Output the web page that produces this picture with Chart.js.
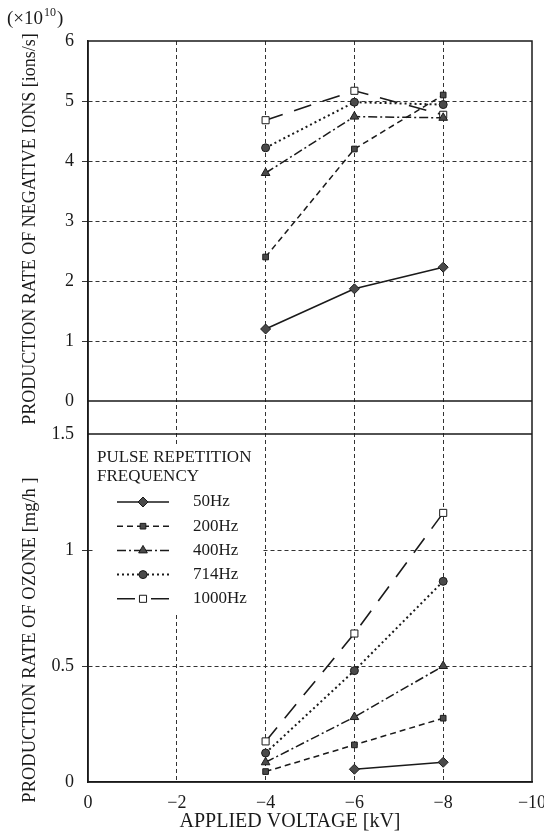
<!DOCTYPE html>
<html>
<head>
<meta charset="utf-8">
<script src="https://cdn.jsdelivr.net/npm/chart.js@4.4.0/dist/chart.umd.min.js"></script>
<style>
  html, body { margin: 0; padding: 0; background: #fff; }
  #wrap { position: relative; width: 544px; height: 836px; }
</style>
</head>
<body>
<div id="wrap"><canvas id="chart" width="544" height="836"></canvas></div>
<script>
const voltages = [-4, -6, -8];
const frequencies = ['50Hz', '200Hz', '400Hz', '714Hz', '1000Hz'];

// production rate of negative ions (x10^10 ions/s)
const ions50 = [1.2, 1.87, 2.23];
const ions200 = [2.4, 4.2, 5.1];
const ions400 = [3.8, 4.74, 4.72];
const ions714 = [4.22, 4.98, 4.94];
const ions1000 = [4.68, 5.17, 4.77];

// production rate of ozone (mg/h)
const ozone50 = [null, 0.055, 0.085];
const ozone200 = [0.045, 0.16, 0.275];
const ozone400 = [0.085, 0.28, 0.5];
const ozone714 = [0.125, 0.48, 0.865];
const ozone1000 = [0.175, 0.64, 1.16];

const xTicks = [0, -2, -4, -6, -8, -10];
const ionTicks = [0, 1, 2, 3, 4, 5, 6];
const ozoneTicks = [0, 0.5, 1, 1.5];

const serif = '"Liberation Serif", "DejaVu Serif", serif';
const ink = '#1a1a1a';
const markFill = '#4a4a4a';

const styles = [
    { dash: [], point: 'rectRot', fill: markFill, radius: 5, width: 1.6 },
    { dash: [6, 4], point: 'rect', fill: markFill, radius: 4, width: 1.5 },
    { dash: [9, 3, 2, 3], point: 'triangle', fill: markFill, radius: 5, width: 1.5 },
    { dash: [2, 3], point: 'circle', fill: markFill, radius: 4, width: 2 },
    { dash: [18, 12], point: 'rect', fill: '#ffffff', radius: 5, width: 1.6 }
];

function makeSet(values, idx, axis) {
    const s = styles[idx];
    return {
        label: frequencies[idx],
        data: voltages.map((v, i) => ({ x: v, y: values[i] })),
        yAxisID: axis,
        borderColor: ink,
        borderWidth: s.width,
        borderDash: s.dash,
        pointStyle: s.point,
        pointRadius: s.radius,
        pointBackgroundColor: s.fill,
        pointBorderColor: ink,
        pointBorderWidth: 1,
        tension: 0,
        fill: false
    };
}

const ionSets = [ions50, ions200, ions400, ions714, ions1000].map((arr, i) => makeSet(arr, i, 'y'));
const ozoneSets = [ozone50, ozone200, ozone400, ozone714, ozone1000].map((arr, i) => makeSet(arr, i, 'y2'));

function gridColor(edges) {
    return function(c) {
        if (c.tick && edges.includes(c.tick.value)) return 'rgba(0,0,0,0)';
        return '#333';
    };
}

// solid frame and the panel break lines
const framePlugin = {
    id: 'frame',
    beforeDatasetsDraw(chart) {
        const { ctx, chartArea: a, scales } = chart;
        const y0 = scales.y.getPixelForValue(0);
        const yTop2 = scales.y2.getPixelForValue(1.5);
        ctx.save();
        ctx.strokeStyle = ink;
        ctx.lineWidth = 1.5;
        ctx.strokeRect(a.left, a.top, a.right - a.left, a.bottom - a.top);
        ctx.beginPath();
        ctx.moveTo(a.left, y0);
        ctx.lineTo(a.right, y0);
        ctx.moveTo(a.left, yTop2);
        ctx.lineTo(a.right, yTop2);
        ctx.stroke();
        ctx.restore();
    }
};

function sideTitle(ctx, text, x, y, size) {
    ctx.save();
    ctx.translate(x, y);
    ctx.rotate(-Math.PI / 2);
    ctx.font = size + 'px ' + serif;
    ctx.textAlign = 'center';
    ctx.textBaseline = 'middle';
    ctx.fillText(text, 0, 0);
    ctx.restore();
}

// legend box inside the ozone panel, axis titles and the exponent note
const notePlugin = {
    id: 'notes',
    afterDraw(chart) {
        const { ctx, chartArea: a } = chart;
        const y2 = chart.scales.y2;
        const bx = a.left + 7;
        const by = y2.top + 10;
        ctx.save();
        ctx.fillStyle = '#fff';
        ctx.fillRect(bx, by, 167, 170);

        ctx.fillStyle = ink;
        ctx.textBaseline = 'middle';
        ctx.font = '17px ' + serif;
        ctx.fillText('PULSE REPETITION', bx + 2, by + 14);
        ctx.fillText('FREQUENCY', bx + 2, by + 33);

        chart.data.datasets.slice(0, 5).forEach((ds, i) => {
            const y = by + 58 + i * 24.2;
            const cx = bx + 48;
            ctx.strokeStyle = ink;
            ctx.lineWidth = ds.borderWidth;
            ctx.setLineDash(ds.borderDash);
            ctx.beginPath();
            ctx.moveTo(bx + 22, y);
            ctx.lineTo(cx, y);
            ctx.moveTo(bx + 74, y);
            ctx.lineTo(cx, y);
            ctx.stroke();
            ctx.setLineDash([]);
            ctx.fillStyle = ds.pointBackgroundColor;
            ctx.lineWidth = 1;
            Chart.helpers.drawPoint(ctx, {
                pointStyle: ds.pointStyle, radius: ds.pointRadius, rotation: 0, borderWidth: 1
            }, cx, y);
            ctx.fillStyle = ink;
            ctx.fillText(ds.label, bx + 98, y);
        });

        ctx.fillStyle = ink;
        sideTitle(ctx, 'PRODUCTION RATE OF NEGATIVE IONS [ions/s]', 30, 229, 18);
        sideTitle(ctx, 'PRODUCTION RATE OF OZONE [mg/h ]', 30, 640, 18.5);

        // x axis title, set a little left of centre as in the original
        ctx.textAlign = 'center';
        ctx.textBaseline = 'middle';
        ctx.font = '20px ' + serif;
        ctx.fillText('APPLIED VOLTAGE [kV]', (a.left + a.right) / 2 - 20, 822);

        ctx.textAlign = 'left';
        ctx.textBaseline = 'alphabetic';
        ctx.font = '19px ' + serif;
        ctx.fillText('(\u00d710', 7, 24);
        const w = ctx.measureText('(\u00d710').width;
        ctx.font = '12px ' + serif;
        ctx.fillText('10', 7 + w + 1, 16);
        const w2 = ctx.measureText('10').width;
        ctx.font = '19px ' + serif;
        ctx.fillText(')', 7 + w + w2 + 2, 24);
        ctx.restore();
    }
};

const tickFont = { family: serif, size: 18 };

new Chart(document.getElementById('chart').getContext('2d'), {
    type: 'line',
    data: { datasets: ionSets.concat(ozoneSets) },
    options: {
        responsive: false,
        animation: false,
        layout: { padding: { top: 41, right: 12, left: 0, bottom: 0 } },
        plugins: {
            legend: { display: false },
            tooltip: { enabled: false }
        },
        scales: {
            x: {
                type: 'linear',
                min: -10,
                max: 0,
                reverse: true,
                afterBuildTicks: s => { s.ticks = xTicks.map(v => ({ value: v })); },
                afterFit: s => { s.height = 54; s.paddingRight = 0; s.paddingLeft = 0; },
                ticks: {
                    font: tickFont,
                    color: ink,
                    padding: 10,
                    maxRotation: 0,
                    callback: v => (v === 0 ? '0' : '\u2212' + Math.abs(v))
                },
                grid: { color: gridColor([0, -10]), lineWidth: 1, drawTicks: false },
                border: { display: true, color: ink, width: 1.5, dash: [4, 3] }
            },
            y: {
                type: 'linear',
                position: 'left',
                stack: 'panels',
                stackWeight: 393,
                weight: 2,
                min: -0.55,
                max: 6,
                afterBuildTicks: s => { s.ticks = ionTicks.map(v => ({ value: v })); },
                afterFit: s => { s.width = 88; },
                ticks: { font: tickFont, color: ink, padding: 8, callback: v => String(v) },
                grid: { color: gridColor([0, 6]), lineWidth: 1, tickLength: 6 },
                border: { display: true, color: ink, width: 1.5, dash: [4, 3] }
            },
            y2: {
                type: 'linear',
                position: 'left',
                stack: 'panels',
                stackWeight: 348,
                weight: 1,
                min: 0,
                max: 1.5,
                afterBuildTicks: s => { s.ticks = ozoneTicks.map(v => ({ value: v })); },
                afterFit: s => { s.width = 88; },
                ticks: { font: tickFont, color: ink, padding: 8, callback: v => String(v) },
                grid: { color: gridColor([0, 1.5]), lineWidth: 1, tickLength: 6 },
                border: { display: true, color: ink, width: 1.5, dash: [4, 3] }
            }
        }
    },
    plugins: [framePlugin, notePlugin]
});
</script>
</body>
</html>
